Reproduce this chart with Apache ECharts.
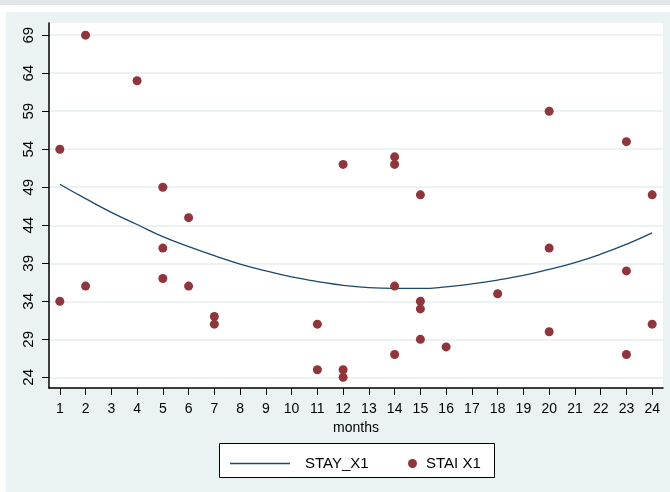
<!DOCTYPE html>
<html>
<head>
<meta charset="utf-8">
<script src="https://cdn.jsdelivr.net/npm/echarts@6/dist/echarts.min.js"></script>
<style>
  html, body { margin: 0; padding: 0; background: #fff; }
  #main { width: 670px; height: 492px; }
</style>
</head>
<body>
<div id="main"></div>
<script>
// scatter: STAI X1 by month
var staiMonths = [1, 1, 2, 2, 4, 5, 5, 5, 6, 6, 7, 7, 11, 11, 12, 12, 12, 14, 14, 14, 14, 15, 15, 15, 15, 16, 18, 20, 20, 20, 23, 23, 23, 24, 24];
var staiValues = [54, 34, 69, 36, 63, 49, 41, 37, 45, 36, 32, 31, 31, 25, 52, 25, 24, 53, 52, 36, 27, 48, 34, 33, 29, 28, 35, 59, 41, 30, 55, 38, 27, 48, 31];

// fitted curve STAY_X1
var fitMonths = [1, 2, 3, 4, 5, 6, 7, 8, 9, 10, 11, 12, 13, 14, 15, 16, 17, 18, 19, 20, 21, 22, 23, 24];
var fitValues = [49.4, 47.5, 45.7, 44.1, 42.5, 41.2, 40.0, 38.9, 38.0, 37.2, 36.6, 36.1, 35.8, 35.7, 35.7, 35.9, 36.3, 36.8, 37.4, 38.2, 39.1, 40.2, 41.5, 43.0];

var xTicks = [1, 2, 3, 4, 5, 6, 7, 8, 9, 10, 11, 12, 13, 14, 15, 16, 17, 18, 19, 20, 21, 22, 23, 24];
var yTicks = [24, 29, 34, 39, 44, 49, 54, 59, 64, 69];

var navy = '#1a476f';
var maroon = '#90353b';
var font = 'Liberation Sans, Arial, sans-serif';

var myChart = echarts.init(document.getElementById('main'));

var option = {
  animation: false,
  backgroundColor: '#ffffff',
  textStyle: { fontFamily: font, color: '#000' },
  graphic: [
    { type: 'rect', left: 0, top: 0, shape: { width: 670, height: 5 }, style: { fill: '#e4e5e7' }, z: -10 },
    { type: 'rect', left: 6, top: 12, shape: { width: 664, height: 480 }, style: { fill: '#eaf2f3' }, z: -10 },
    { type: 'rect', left: 219, top: 443, shape: { width: 275, height: 34 }, style: { fill: '#fff', stroke: '#000', lineWidth: 1 }, z: -5 }
  ],
  grid: {
    left: 49, right: 7, top: 23, bottom: 104,
    show: true, backgroundColor: '#fff', borderWidth: 0
  },
  legend: [
    {
      data: [{ name: 'STAY_X1', icon: 'rect', itemStyle: { color: navy } }],
      left: 225, top: 451,
      itemWidth: 60, itemHeight: 1.5, itemGap: 10,
      textStyle: { fontSize: 15, color: '#000', fontFamily: font, padding: [0, 0, 0, 10] }
    },
    {
      data: [{ name: 'STAI X1', icon: 'circle' }],
      left: 403, top: 451,
      itemWidth: 9, itemHeight: 9, itemGap: 10,
      textStyle: { fontSize: 15, color: '#000', fontFamily: font, padding: [0, 0, 0, 4] }
    }
  ],
  xAxis: {
    type: 'value',
    min: 0.58, max: 24.42,
    name: 'months',
    nameLocation: 'middle',
    nameGap: 30,
    nameTextStyle: { fontSize: 14, color: '#000', fontFamily: font },
    axisLine: { show: true, onZero: false, lineStyle: { color: '#000', width: 1.5 } },
    axisTick: { show: true, length: 7, customValues: xTicks, lineStyle: { color: '#000', width: 1 } },
    axisLabel: { customValues: xTicks, fontSize: 14, color: '#000', margin: 14, fontFamily: font },
    splitLine: { show: false }
  },
  yAxis: {
    type: 'value',
    min: 22.6, max: 70.6,
    axisLine: { show: true, onZero: false, lineStyle: { color: '#000', width: 1.5 } },
    axisTick: { show: true, length: 7, customValues: yTicks, lineStyle: { color: '#000', width: 1 } },
    axisLabel: { customValues: yTicks, rotate: 90, fontSize: 15, color: '#000', margin: 13, fontFamily: font },
    splitLine: { show: true, lineStyle: { color: '#e6eef0', width: 1.5 } }
  },
  series: [
    {
      name: 'STAY_X1',
      type: 'line',
      data: fitMonths.map(function (m, i) { return [m, fitValues[i]]; }),
      smooth: true,
      symbol: 'none',
      lineStyle: { color: navy, width: 1.3 },
      itemStyle: { color: navy },
      z: 2
    },
    {
      name: 'STAI X1',
      type: 'scatter',
      data: staiMonths.map(function (m, i) { return [m, staiValues[i]]; }),
      symbol: 'circle',
      symbolSize: 9,
      itemStyle: { color: maroon, opacity: 1 },
      z: 3
    }
  ]
};

myChart.setOption(option);
</script>
</body>
</html>
